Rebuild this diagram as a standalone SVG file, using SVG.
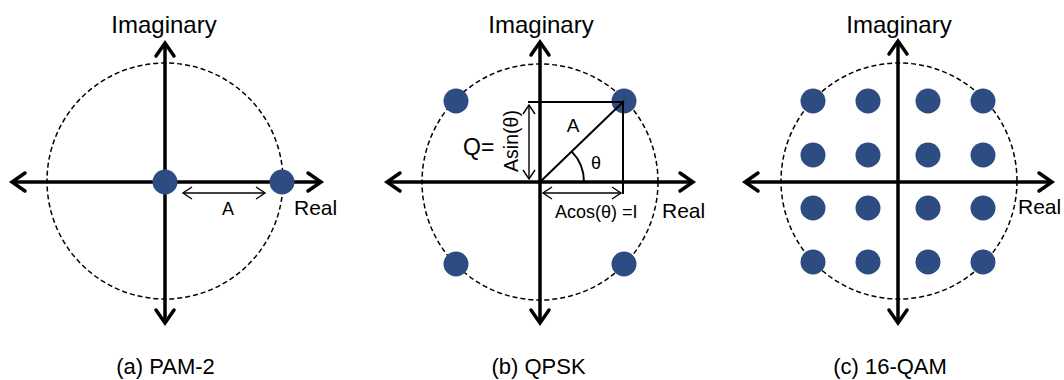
<svg xmlns="http://www.w3.org/2000/svg" width="1064" height="380" viewBox="0 0 1064 380">
<style>
text{font-family:"Liberation Sans",Arial,sans-serif;fill:#000}
.ax{stroke:#000;stroke-width:3.5;fill:none;marker-start:url(#big);marker-end:url(#big)}
.circ{stroke:#000;stroke-width:1.5;fill:none;stroke-dasharray:5 3}
.dot{fill:#2c4c82}
.dim{stroke:#000;stroke-width:1.4;fill:none;marker-start:url(#small);marker-end:url(#small)}
.ln{stroke:#000;stroke-width:2;fill:none}
.lbl{font-size:24px;text-anchor:middle}
.cap{font-size:22px;text-anchor:middle}
.re{font-size:21px}
</style>
<defs>
<marker id="big" viewBox="-16 -12 20 24" markerWidth="20" markerHeight="24" refX="0" refY="0" markerUnits="userSpaceOnUse" orient="auto-start-reverse">
<path d="M-13,-9 L0,0 L-13,9" fill="none" stroke="#000" stroke-width="3.5" stroke-linecap="round"/>
</marker>
<marker id="small" viewBox="-12 -8 14 16" markerWidth="14" markerHeight="16" refX="0" refY="0" markerUnits="userSpaceOnUse" orient="auto-start-reverse">
<path d="M-9,-6 L0,0 L-9,6" fill="none" stroke="#000" stroke-width="1.4"/>
</marker>
</defs>

<g id="connectors">
<line class="ax" x1="165" y1="43" x2="165" y2="323"/>
<line class="ax" x1="12" y1="182" x2="321" y2="182"/>
<line class="ax" x1="540" y1="42" x2="540" y2="323"/>
<line class="ax" x1="387" y1="182" x2="693" y2="182"/>
<line class="ax" x1="898" y1="41" x2="898" y2="323"/>
<line class="ax" x1="745" y1="182" x2="1052" y2="182"/>
</g>

<g id="panel-a">
<circle class="circ" cx="165" cy="181" r="118"/>
<text class="lbl" x="164" y="33">Imaginary</text>
<g id="a-dot-origin"><circle class="dot" cx="165" cy="182" r="12.5"/></g>
<g id="a-dot-right"><circle class="dot" cx="282" cy="182" r="12.5"/></g>
<line class="dim" x1="183" y1="193" x2="265" y2="193"/>
<text x="228" y="215" font-size="18" text-anchor="middle">A</text>
<text class="re" x="294" y="215">Real</text>
<text class="cap" x="165.5" y="374">(a) PAM-2</text>
</g>

<g id="panel-b">
<circle class="circ" cx="540" cy="182" r="118"/>
<text class="lbl" x="541" y="33">Imaginary</text>
<g id="b-dot-1"><circle class="dot" cx="456" cy="101" r="12.5"/></g>
<g id="b-dot-2"><circle class="dot" cx="624" cy="101" r="12.5"/></g>
<g id="b-dot-3"><circle class="dot" cx="456" cy="264" r="12.5"/></g>
<g id="b-dot-4"><circle class="dot" cx="624" cy="264" r="12.5"/></g>
<line class="ln" x1="528" y1="102" x2="624" y2="102"/>
<line class="ln" x1="623" y1="102" x2="623" y2="194"/>
<line class="ln" stroke-width="2.5" x1="540" y1="182" x2="624" y2="101"/>
<path class="ln" d="M584,182 A44,44 0 0 0 571.6,151.4"/>
<line class="dim" x1="529" y1="105" x2="529" y2="179"/>
<line class="dim" x1="543" y1="193" x2="621" y2="193"/>
<text x="573" y="132" font-size="19" text-anchor="middle">A</text>
<text x="596" y="169" font-size="18" text-anchor="middle">θ</text>
<text x="463" y="155" font-size="23">Q=</text>
<text x="0" y="0" font-size="19.5" text-anchor="middle" transform="translate(518 141) rotate(-90)">Asin(θ)</text>
<text x="555" y="218" font-size="18">Acos(θ) =I</text>
<text class="re" x="662" y="218">Real</text>
<text class="cap" x="538.5" y="374">(b) QPSK</text>
</g>

<g id="panel-c">
<circle class="circ" cx="899" cy="181" r="118"/>
<text class="lbl" x="899" y="33">Imaginary</text>
<g id="c-dots">
<circle class="dot" cx="813" cy="101" r="12.5"/><circle class="dot" cx="868" cy="101" r="12.5"/><circle class="dot" cx="928" cy="101" r="12.5"/><circle class="dot" cx="983" cy="101" r="12.5"/>
<circle class="dot" cx="813" cy="155" r="12.5"/><circle class="dot" cx="868" cy="155" r="12.5"/><circle class="dot" cx="928" cy="155" r="12.5"/><circle class="dot" cx="983" cy="155" r="12.5"/>
<circle class="dot" cx="813" cy="208" r="12.5"/><circle class="dot" cx="868" cy="208" r="12.5"/><circle class="dot" cx="928" cy="208" r="12.5"/><circle class="dot" cx="983" cy="208" r="12.5"/>
<circle class="dot" cx="813" cy="262" r="12.5"/><circle class="dot" cx="868" cy="262" r="12.5"/><circle class="dot" cx="928" cy="262" r="12.5"/><circle class="dot" cx="983" cy="262" r="12.5"/>
</g>
<text class="re" x="1018" y="214">Real</text>
<text class="cap" x="890" y="374">(c) 16-QAM</text>
</g>
</svg>
